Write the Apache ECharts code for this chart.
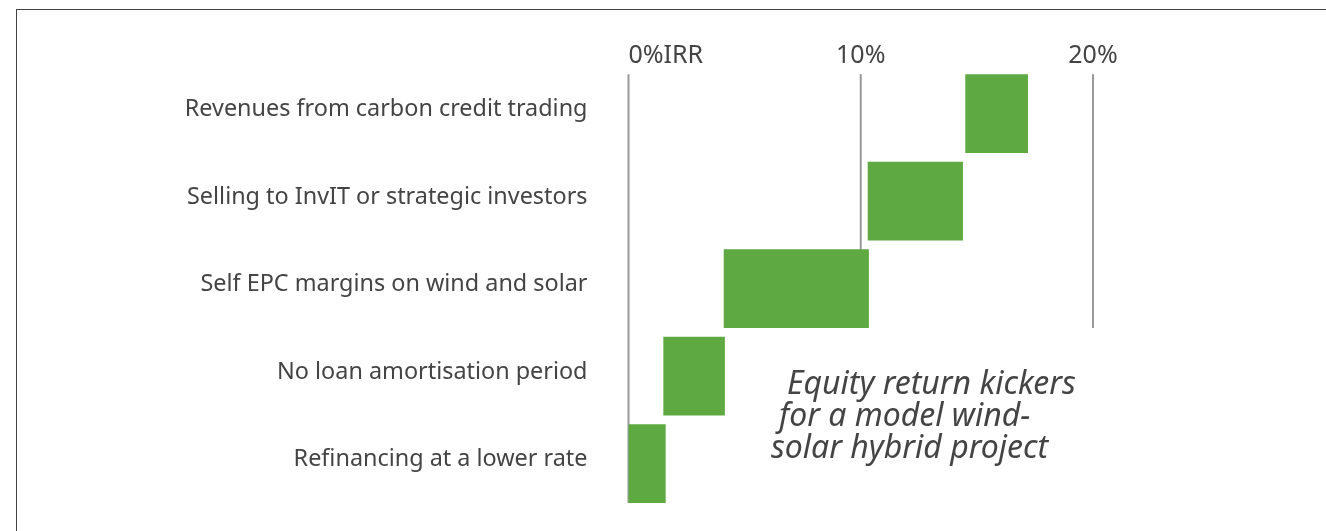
<!DOCTYPE html>
<html>
<head>
<meta charset="utf-8">
<script src="https://cdn.jsdelivr.net/npm/echarts@6/dist/echarts.min.js"></script>
<style>
  body { margin: 0; background: #fff; }
  #c { width: 1326px; height: 531px; }
  /* frame: only the top and left edges are visible in the source */
  #frame { position: absolute; left: 16px; top: 9px; right: -5px; bottom: -5px;
           border-top: 1.5px solid #444; border-left: 1.5px solid #444; pointer-events: none; }
</style>
</head>
<body>
<div id="c"></div>
<div id="frame"></div>
<script>
// ---------- data (top row first) ----------
const categories = [
  "Revenues from carbon credit trading",
  "Selling to InvIT or strategic investors",
  "Self EPC margins on wind and solar",
  "No loan amortisation period",
  "Refinancing at a lower rate",
];
const barStart = [14.5, 10.3, 4.1, 1.5, 0];   // equity IRR, %
const barEnd = [17.2, 14.4, 10.35, 4.15, 1.6];
const tickValues = [0, 10, 20];
const tickLabels = ["0%IRR", "10%", "20%"];
// reference lines run from the top row down to this row index
const refLastRow = [4, 2, 2];
const noteLines = ["Equity return kickers", "for a model wind-", "solar hybrid project"];

const GREEN = "#5ea942";
const TEXT = "#444";
const FONT = "'Noto Sans', 'DejaVu Sans', sans-serif";
const BAR_FRAC = 0.9; // bar thickness as share of the category band

const barData = categories.map((c, i) => [barStart[i], barEnd[i], i]);
const refData = tickValues.map((v, i) => [v, refLastRow[i]]);

const chart = echarts.init(document.getElementById("c"), null, { renderer: "canvas" });
chart.setOption({
  animation: false,
  backgroundColor: "transparent",
  grid: { left: 628.5, right: 233, top: 69.75, bottom: 23.75, outerBoundsMode: "none" },
  xAxis: {
    type: "value",
    position: "top",
    min: 0,
    max: 20,
    interval: 10,
    axisLine: { show: false },
    axisTick: { show: false },
    splitLine: { show: false },
    axisLabel: {
      margin: 1,
      fontSize: 25,
      fontFamily: FONT,
      color: TEXT,
      alignMinLabel: "left",
      formatter: (v) => tickLabels[tickValues.indexOf(v)] || "",
    },
  },
  yAxis: {
    type: "category",
    inverse: true,
    data: categories,
    axisLine: { show: false },
    axisTick: { show: false },
    splitLine: { show: false },
    // labels sit a few px above the bar centre in the source
    axisLabel: { margin: 41, fontSize: 23.4, fontFamily: FONT, color: TEXT, verticalAlign: "bottom", lineHeight: 8 },
  },
  series: [
    {
      // vertical reference lines, from top of the first bar to bottom of refLastRow
      type: "custom",
      z: 1,
      data: refData,
      encode: { x: 0, y: 1 },
      renderItem: (params, api) => {
        const band = api.size([0, 1])[1];
        const half = (band * BAR_FRAC) / 2;
        const top = api.coord([api.value(0), 0]);
        const bot = api.coord([api.value(0), api.value(1)]);
        return {
          type: "line",
          shape: { x1: top[0], y1: top[1] - half, x2: bot[0], y2: bot[1] + half },
          style: { stroke: "#999", lineWidth: 2 },
        };
      },
    },
    {
      // waterfall bars
      type: "custom",
      z: 2,
      data: barData,
      encode: { x: [0, 1], y: 2 },
      renderItem: (params, api) => {
        const a = api.coord([api.value(0), api.value(2)]);
        const b = api.coord([api.value(1), api.value(2)]);
        const h = api.size([0, 1])[1] * BAR_FRAC;
        return {
          type: "rect",
          shape: { x: a[0], y: a[1] - h / 2, width: b[0] - a[0], height: h },
          style: { fill: GREEN },
        };
      },
    },
  ],
  graphic: noteLines.map((t, i) => ({
    type: "text",
    left: 787 - i * 8,
    top: 369 + i * 32,
    style: {
      text: t,
      fontSize: 32,
      fontStyle: "italic",
      fontFamily: FONT,
      fill: TEXT,
    },
  })),
});
</script>
</body>
</html>
